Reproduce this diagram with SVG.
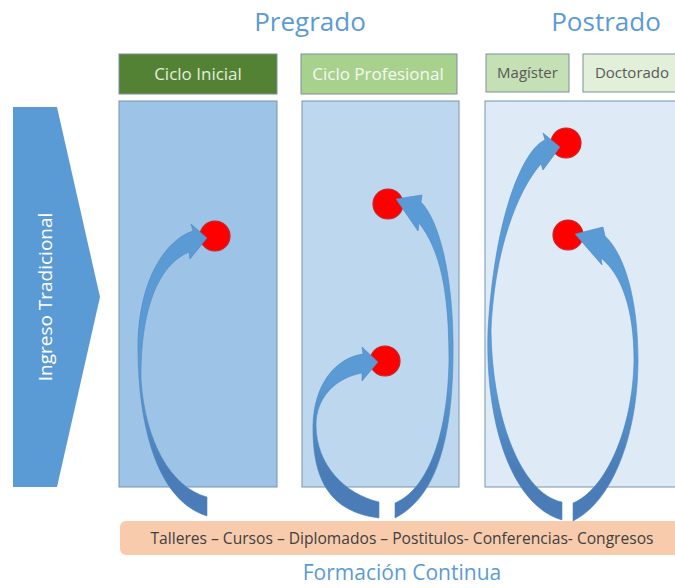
<svg xmlns="http://www.w3.org/2000/svg" width="675" height="588" viewBox="0 0 675 588">
<style>
.t{font-family:"Open Sans","Noto Sans","Liberation Sans",sans-serif}
.title{font-size:26px;fill:#5b9bd5;text-anchor:middle}
.hdr{font-size:17px;text-anchor:middle}
.pg{font-size:15px;fill:#595959;text-anchor:middle}
.box{stroke:#7a8f9e;stroke-width:1}
.panel{stroke:#7893ae;stroke-width:1}
.dot{fill:#ff0000;stroke:#c4262b;stroke-width:1.2}
.arr{fill:url(#ag);stroke:#4f86c0;stroke-width:0.6}
</style>
<defs>
<linearGradient id="ag" gradientUnits="userSpaceOnUse" x1="0" y1="380" x2="0" y2="470">
<stop offset="0" stop-color="#5b9bd5"/>
<stop offset="1" stop-color="#4a7db7"/>
</linearGradient>
</defs>
<rect width="675" height="588" fill="#ffffff"/>

<g id="title-pregrado"><text class="t title" x="310" y="31">Pregrado</text></g>
<g id="title-postrado"><text class="t title" x="606" y="31">Postrado</text></g>

<g id="ciclo-inicial"><rect class="box" x="119" y="54" width="158" height="40" fill="#548235"/><text class="t hdr" x="198" y="80" fill="#e2efda">Ciclo Inicial</text></g>
<g id="ciclo-profesional"><rect class="box" x="301" y="54" width="156" height="40" fill="#a9d18e"/><text class="t hdr" x="378" y="80" fill="#f4f9f0">Ciclo Profesional</text></g>
<g id="magister"><rect class="box" x="486" y="54" width="83" height="38" fill="#c5e0b4"/><text class="t pg" x="527.5" y="78">Magíster</text></g>
<g id="doctorado"><rect class="box" x="583" y="54" width="100" height="38" fill="#e2f0d9"/><text class="t pg" x="632" y="78">Doctorado</text></g>

<g id="ingreso-tradicional">
<polygon points="13,107 57,107 100,297 57,487 13,487" fill="#5b9bd5"/>
<text class="t" x="0" y="0" transform="translate(52,297) rotate(-90)" font-size="19" fill="#ffffff" text-anchor="middle">Ingreso Tradicional</text>
</g>

<g id="panel-inicial"><rect class="panel" x="119" y="101" width="158" height="386" fill="#9dc3e6"/></g>
<g id="panel-profesional"><rect class="panel" x="302" y="101" width="157" height="386" fill="#bdd7ee"/></g>
<g id="panel-postgrado"><rect class="panel" x="485" y="101" width="198" height="386" fill="#deebf7"/></g>

<g id="formacion-continua">
<rect x="120" y="521" width="565" height="34" rx="6" fill="#f8cbad"/>
<text class="t" x="402" y="544" font-size="15.6" fill="#404040" text-anchor="middle">Talleres – Cursos – Diplomados – Postitulos- Conferencias- Congresos</text>
<text class="t" x="402" y="580" font-size="21" fill="#5b9bd5" text-anchor="middle">Formación Continua</text>
</g>

<g id="hito-1"><circle class="dot" cx="215" cy="236" r="15"/></g>
<g id="hito-2"><circle class="dot" cx="388" cy="204" r="15"/></g>
<g id="hito-3"><circle class="dot" cx="385" cy="361" r="15"/></g>
<g id="hito-4"><circle class="dot" cx="566" cy="143" r="15"/></g>
<g id="hito-5"><circle class="dot" cx="568" cy="235" r="15"/></g>

<g id="connectors">
<path class="arr" d="M207,238 L191,224 L193,231 C165,240 140,280 138,340 C137,420 155,500 207,516 L207,497 C170,487 145,440 141,380 C140,310 158,265 189,252 L190,259 Z"/>
<path class="arr" d="M378,362 L362,347 L363,354 C335,358 314,385 313,425 C312,480 330,512 379,518 L379,502 C345,494 316,465 316,425 C316,398 335,378 362,373 L362,381 Z"/>
<path class="arr" d="M396,199 L422,195 L421,202 C440,222 452,275 453,340 C454,430 440,495 395,518 L395,503 C430,488 448,430 449,360 C449,290 440,250 419,223 L418,231 Z"/>
<path class="arr" d="M560,147 L543,133 L545,140 C525,148 495,210 488,330 C485,420 510,505 562,520 L562,502 C522,494 492,420 491,330 C495,240 522,185 541,164 L543,170 Z"/>
<path class="arr" d="M575,234 L603,227 L605,236 C625,255 638,300 638,360 C638,430 615,500 573,521 L573,503 C605,490 633,430 634,360 C634,310 622,275 601,258 L602,265 Z"/>
</g>
</svg>
